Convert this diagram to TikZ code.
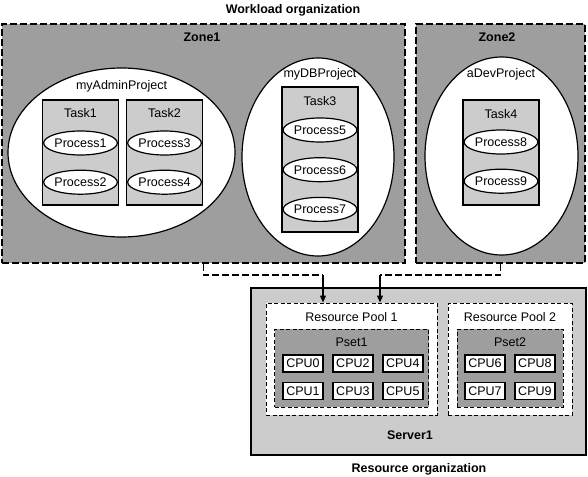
\documentclass[tikz,border=0pt]{standalone}
\usepackage{fontspec}
\setmainfont{Liberation Sans}
\usetikzlibrary{shapes.geometric, positioning, arrows.meta}
\definecolor{zonegray}{gray}{0.62}
\definecolor{taskgray}{gray}{0.8}

\begin{document}
\begin{tikzpicture}[x=1pt, y=-1pt,
    every node/.style={font=\fontsize{12.5}{14}\selectfont},
    title/.style={font=\fontsize{12.5}{14}\selectfont\bfseries},
    zonebox/.style={rectangle, draw, fill=zonegray, line width=1.4pt, dash pattern=on 7pt off 3pt, inner sep=0pt},
    projellipse/.style={ellipse, draw, fill=white, line width=1.2pt, inner sep=0pt},
    taskbox/.style={rectangle, draw, fill=taskgray, line width=1.2pt, inner sep=0pt, minimum width=76pt},
    procellipse/.style={ellipse, draw, fill=white, line width=1.2pt, inner sep=0pt, minimum width=61pt, minimum height=24pt},
    serverbox/.style={rectangle, draw, fill=taskgray, line width=1.6pt, inner sep=0pt},
    poolbox/.style={rectangle, draw, fill=white, line width=1pt, dash pattern=on 4pt off 2.5pt, inner sep=0pt, minimum height=112pt},
    psetbox/.style={rectangle, draw, fill=zonegray, line width=1pt, dash pattern=on 4pt off 2.5pt, inner sep=0pt, minimum height=78pt},
    cpubox/.style={rectangle, draw, fill=white, line width=1.4pt, inner sep=0pt, minimum width=40pt, minimum height=17pt},
    dashlink/.style={line width=1.2pt, dash pattern=on 7pt off 3pt},
    arrowlink/.style={line width=1.2pt, -{Triangle[length=7pt, width=6pt]}}
]
    \useasboundingbox (0,0) rectangle (588,476);

    % Workload side
    \node [title] (worktitle) at (293,10) {Workload organization};

    \node [zonebox, minimum width=403pt, minimum height=239pt] (zone1) at (203.5,143.5) {};
    \node [zonebox, minimum width=169pt, minimum height=239pt] (zone2) at (500.5,143.5) {};
    \node [title] (zone1label) at (202,37) {Zone1};
    \node [title] (zone2label) at (497,37) {Zone2};

    % Projects
    \node [projellipse, minimum width=227pt, minimum height=169pt] (adminproj) at (121.5,152.5) {};
    \node [projellipse, minimum width=152pt, minimum height=198pt] (dbproj) at (318,157) {};
    \node [projellipse, minimum width=153pt, minimum height=198pt] (devproj) at (501.5,156) {};
    \node (adminlabel) at (121.5,86) {myAdminProject};
    \node (dblabel) at (320,74) {myDBProject};
    \node (devlabel) at (501,74) {aDevProject};

    % Tasks
    \node [taskbox, minimum height=105pt] (task1) at (80.5,152.5) {};
    \node [taskbox, minimum height=105pt] (task2) at (164.5,152.5) {};
    \node [taskbox, minimum height=145pt] (task3) at (320,159.5) {};
    \node [taskbox, minimum height=105pt] (task4) at (501,152.5) {};
    \node (task1label) at (80.5,113) {Task1};
    \node (task2label) at (164.5,113) {Task2};
    \node (task3label) at (320,101) {Task3};
    \node (task4label) at (501,114) {Task4};

    % Processes
    \node [procellipse] (proc1) at (80.5,143) {Process1};
    \node [procellipse, below=14pt of proc1] (proc2) {Process2};
    \node [procellipse] (proc3) at (164.5,143) {Process3};
    \node [procellipse, below=14pt of proc3] (proc4) {Process4};
    \node [procellipse] (proc5) at (320,130) {Process5};
    \node [procellipse, below=14.5pt of proc5] (proc6) {Process6};
    \node [procellipse, below=14.5pt of proc6] (proc7) {Process7};
    \node [procellipse] (proc8) at (501,142) {Process8};
    \node [procellipse, below=14pt of proc8] (proc9) {Process9};

    % Resource side
    \node [serverbox, minimum width=335pt, minimum height=167pt] (server) at (418.5,371.5) {};
    \node [title] (serverlabel) at (410,435) {Server1};
    \node [title] (restitle) at (419,469) {Resource organization};

    \node [poolbox, minimum width=171pt] (pool1) at (351.5,359) {};
    \node [poolbox, minimum width=124pt] (pool2) at (510,359) {};
    \node (pool1label) at (351.5,317) {Resource Pool 1};
    \node (pool2label) at (510,317) {Resource Pool 2};

    \node [psetbox, minimum width=154pt] (pset1) at (351.5,368) {};
    \node [psetbox, minimum width=106pt] (pset2) at (510,368) {};
    \node (pset1label) at (351.5,342) {Pset1};
    \node (pset2label) at (510,342) {Pset2};

    % CPUs
    \node [cpubox] (cpu0) at (303,363.5) {CPU0};
    \node [cpubox, below=9pt of cpu0] (cpu1) {CPU1};
    \node [cpubox, right=8.5pt of cpu0] (cpu2) {CPU2};
    \node [cpubox, below=9pt of cpu2] (cpu3) {CPU3};
    \node [cpubox, right=8.5pt of cpu2] (cpu4) {CPU4};
    \node [cpubox, below=9pt of cpu4] (cpu5) {CPU5};
    \node [cpubox] (cpu6) at (485,363.5) {CPU6};
    \node [cpubox, below=9pt of cpu6] (cpu7) {CPU7};
    \node [cpubox, right=8.5pt of cpu6] (cpu8) {CPU8};
    \node [cpubox, below=9pt of cpu8] (cpu9) {CPU9};

    % Zones bound to pool
    \coordinate (bend1) at (323,275);
    \coordinate (bend2) at (380,275);
    \draw [dashlink] (zone1.south) |- (bend1);
    \draw [dashlink] (zone2.south) |- (bend2);
    \draw [arrowlink] (bend1) -- (bend1 |- pool1.north);
    \draw [arrowlink] (bend2) -- (bend2 |- pool1.north);

\end{tikzpicture}
\end{document}
